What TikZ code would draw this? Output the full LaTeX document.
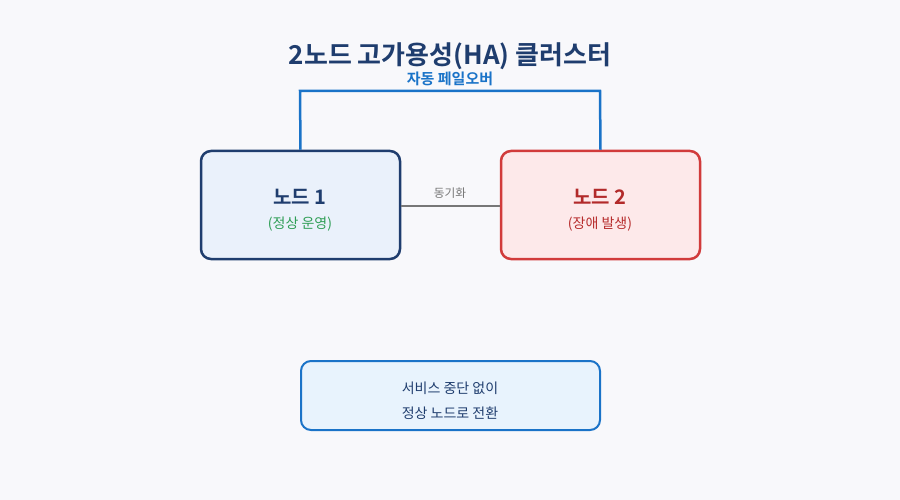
\documentclass[tikz,border=0pt]{standalone}
\usepackage{fontspec}
\setmainfont{Noto Sans CJK KR}
\newfontfamily\kr{Noto Sans CJK KR}
\newfontfamily\krb{Noto Sans CJK KR Bold}
\definecolor{bg}{HTML}{F8F8FB}
\definecolor{navy}{HTML}{1F3D6E}
\definecolor{blueln}{HTML}{1A73C8}
\definecolor{redln}{HTML}{D13B3B}
\definecolor{darkred}{HTML}{B22A2A}
\definecolor{greentx}{HTML}{2E9E55}
\definecolor{grayln}{HTML}{777777}
\definecolor{fillA}{HTML}{EAF1FB}
\definecolor{fillB}{HTML}{FDE9EA}
\definecolor{fillC}{HTML}{E8F3FD}
\tikzset{
  box/.style={rounded corners=10pt, line width=2.5pt, minimum width=199pt, minimum height=108pt, inner sep=0pt},
  txt/.style={inner sep=0pt, anchor=center}
}
\begin{document}
\begin{tikzpicture}[x=1pt,y=-1pt]
\fill[bg] (0,0) rectangle (900,500);
\useasboundingbox (0,0) rectangle (900,500);
\node[txt, text=navy, font=\krb\fontsize{26}{30}\selectfont] (title) at (450,56) {2노드 고가용성(HA) 클러스터};
\node[box, draw=navy, fill=fillA] (n1) at (300.5,205) {};
\node[box, draw=redln, fill=fillB] (n2) at (600.5,205) {};
\coordinate (c1) at (300,91);
\coordinate (c2) at (600,91);
\draw[blueln, line width=2.5pt] (n1.north) -- (c1) -- (c2) -- (n2.north);
\node[txt, text=blueln, font=\krb\fontsize{15}{17}\selectfont] (fo) at (450,79) {자동 페일오버};
\draw[grayln, line width=1.5pt] (n1.east |- 0,206) -- (n2.west |- 0,206);
\node[txt, text=grayln, font=\kr\fontsize{11.7}{13}\selectfont] (sync) at (450,193) {동기화};
\node[txt, text=navy, font=\krb\fontsize{20}{22}\selectfont] (t1) at (300,197) {노드 1};
\node[txt, text=greentx, font=\kr\fontsize{14}{16}\selectfont] (s1) at (300,224) {(정상 운영)};
\node[txt, text=darkred, font=\krb\fontsize{20}{22}\selectfont] (t2) at (600,197) {노드 2};
\node[txt, text=darkred!85!redln, font=\kr\fontsize{14}{16}\selectfont] (s2) at (600,224) {(장애 발생)};
\node[rounded corners=10pt, line width=2pt, draw=blueln, fill=fillC, minimum width=299pt, minimum height=69pt, inner sep=0pt] (res) at (450.5,395.5) {};
\node[txt, text=navy, font=\kr\fontsize{14}{16}\selectfont] (r1) at (450,388) {서비스 중단 없이};
\node[txt, text=navy, font=\kr\fontsize{14}{16}\selectfont] (r2) at (450,413) {정상 노드로 전환};
\end{tikzpicture}
\end{document}
